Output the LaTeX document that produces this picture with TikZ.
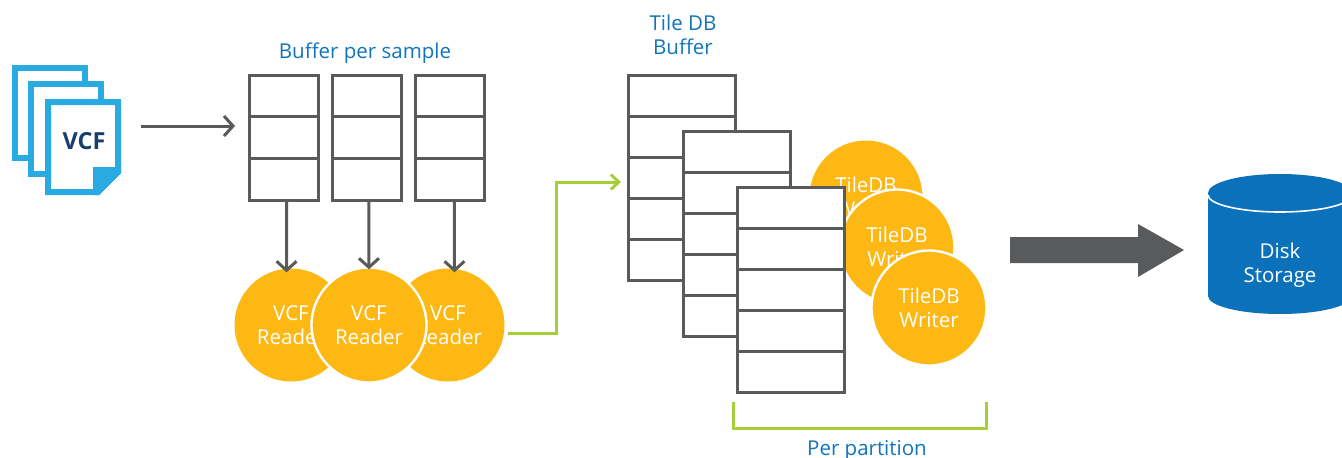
\documentclass[tikz,border=0pt]{standalone}
\usepackage{fontspec}
\setmainfont{Open Sans}
\usetikzlibrary{arrows, arrows.meta}
\definecolor{grayline}{HTML}{595A5C}
\definecolor{goldfill}{HTML}{FDB813}
\definecolor{limeline}{HTML}{A6CE39}
\definecolor{bluetext}{HTML}{0F75BC}
\definecolor{bluedisk}{HTML}{0A71BA}
\definecolor{skyline}{HTML}{29ABE2}
\definecolor{navytext}{HTML}{173F6C}
\tikzset{
  cellbox/.style={draw=grayline, fill=white, line width=3pt, inner sep=0pt, outer sep=0pt, anchor=north west},
  procnode/.style={circle, fill=goldfill, text=white, minimum size=113pt, inner sep=0pt, align=center, font=\fontsize{20.5}{24.5}\selectfont},
  topnode/.style={procnode, draw=white, line width=2.4pt, minimum size=115pt},
  titlenode/.style={text=bluetext, align=center, font=\fontsize{20.5}{24.5}\selectfont},
  docpage/.style={draw=skyline, fill=white, line width=6pt},
  flowline/.style={draw=grayline, line width=3pt, -{Straight Barb[length=9pt, width=20pt, line width=3pt]}},
  limeline/.style={draw=limeline, line width=3pt}
}
\begin{document}
\begin{tikzpicture}[x=1pt, y=-1pt]
      \useasboundingbox (0,0) rectangle (1342,458);
      \clip (0,0) rectangle (1342,458);
      % input files
      \draw [docpage] (15,68) rectangle (85,158);
      \draw [docpage] (31,84) rectangle (101,174);
      \draw [docpage] (48,102) -- (118,102) -- (118,172) -- (98,192) -- (48,192) -- cycle;
      \fill [skyline] (93,167) -- (121,167) -- (121,173) -- (99,195) -- (93,195) -- cycle;
      \node [text=navytext, font=\fontsize{23.5}{24}\bfseries\selectfont] (vcf) at (84,141) {VCF};
      \coordinate (ina) at (141,126);
      \coordinate (inb) at (235,126);
      \draw [flowline] (ina) -- (inb);
      % buffer per sample
      \node [titlenode] (bufname) at (365,53) {Buffer per sample};
      \foreach \x/\n in {249/a,332/b,415/c}
      \foreach \y [count=\yi] in {75,116.7,158.3}
      {
        \node [cellbox, minimum width=69.5pt, minimum height=41.7pt] (buf\n\yi) at (\x,\y) {};
      }
      % readers
      \node [procnode] (reada) at (291,325) {VCF\\Reader};
      \node [procnode] (readc) at (448,325) {VCF\\Reader};
      \node [topnode] (readb) at (369,325) {VCF\\Reader};
      \draw [flowline] ([xshift=3pt]bufa3.south) -- ([xshift=-4.5pt,yshift=-4pt]reada.north);
      \draw [flowline] ([xshift=2pt]bufb3.south) -- ([yshift=-3pt]readb.north);
      \draw [flowline] ([xshift=4.5pt]bufc3.south) -- ([xshift=6.5pt,yshift=-4pt]readc.north);
      % tile buffers
      \node [titlenode] (tilename) at (683,35) {Tile DB\\Buffer};
      \foreach \x/\y/\n in {628/75/a,683/131/b}
      \foreach \k in {1,...,5}
      {
        \node [cellbox, minimum width=107pt, minimum height=41pt] (tile\n\k) at (\x,\y+41*\k-41) {};
      }
      \node [procnode] (writea) at (866,197) {TileDB\\Writer};
      \node [topnode] (writeb) at (897,247) {TileDB\\Writer};
      \node [topnode] (writec) at (929,308) {TileDB\\Writer};
      \foreach \k in {1,...,5}
      {
        \node [cellbox, minimum width=107pt, minimum height=41pt] (tilec\k) at (737,187+41*\k-41) {};
      }
      \draw [limeline, -{Straight Barb[length=8pt, width=15pt, line width=3pt]}] ([xshift=3pt,yshift=-8pt]readc.east) -| (556,182) -- ([xshift=-7pt,yshift=-4.5pt]tilea3.west);
      % partition bracket
      \coordinate (brka) at (733,402);
      \coordinate (brkb) at (986,402);
      \draw [limeline] (brka) -- ++(0,26) -| (brkb);
      \node [titlenode] (partname) at (867,450) {Per partition};
      % output
      \fill [grayline] (1010,237) -- (1138,237) -- (1138,224) -- (1184,250) -- (1138,277) -- (1138,263) -- (1010,263) -- cycle;
      \fill [bluedisk] (1208,193) arc [start angle=180, end angle=0, x radius=72pt, y radius=19pt] -- (1352,296) arc [start angle=0, end angle=-180, x radius=72pt, y radius=18pt] -- cycle;
      \draw [white, line width=1.6pt] (1208,195) arc [start angle=180, end angle=360, x radius=72pt, y radius=17pt];
      \node [text=white, align=center, font=\fontsize{20.5}{24.5}\selectfont] (disk) at (1280,265) {Disk\\Storage};
\end{tikzpicture}
\end{document}
